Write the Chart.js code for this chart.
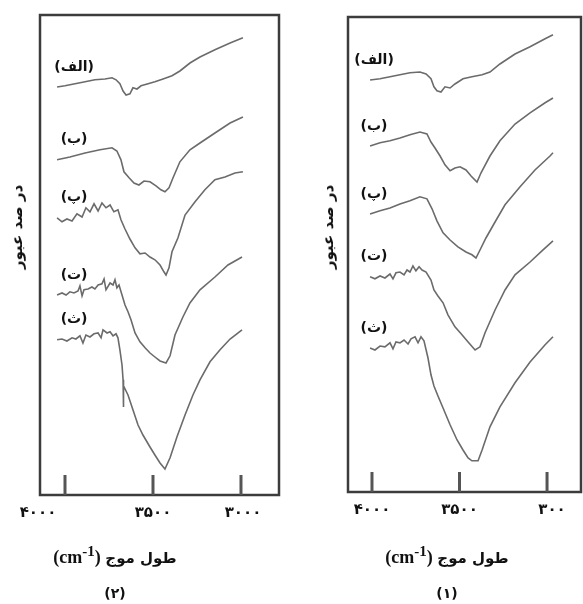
<!DOCTYPE html>
<html>
<head>
<meta charset="utf-8">
<script src="https://cdn.jsdelivr.net/npm/chart.js@4/dist/chart.umd.min.js"></script>
<style>
body{margin:0;background:#fff;width:583px;height:604px;position:relative;overflow:hidden;font-family:"DejaVu Sans",sans-serif;}
canvas{position:absolute;top:0;}
.t{position:absolute;font-weight:bold;color:#111;white-space:nowrap;transform:translate(-50%,-50%);}
.xt{font-family:"Liberation Serif","DejaVu Sans",serif;font-size:18px;}
.xt span{font-family:"DejaVu Sans",sans-serif;font-size:15px;}
.yt{transform:translate(-50%,-50%) rotate(-90deg);font-size:15px;}
.cap{font-size:14px;}
</style>
</head>
<body>
<canvas id="chart2" width="290" height="604" style="left:0"></canvas>
<canvas id="chart1" width="293" height="604" style="left:290px"></canvas>

<div class="t yt" dir="rtl" style="left:17px;top:227px">در صد عبور</div>
<div class="t yt" dir="rtl" style="left:328px;top:227px">در صد عبور</div>
<div class="t xt" dir="rtl" style="left:115px;top:555px"><span>طول موج</span> (cm<sup>-1</sup>)</div>
<div class="t xt" dir="rtl" style="left:447px;top:555px"><span>طول موج</span> (cm<sup>-1</sup>)</div>
<div class="t cap" dir="rtl" style="left:115px;top:593px">(۲)</div>
<div class="t cap" dir="rtl" style="left:447px;top:593px">(۱)</div>

<script>
// curve names and x ticks
const curveNames = ['(الف)', '(ب)', '(پ)', '(ت)', '(ث)'];
const tickValues = [4000, 3500, 3000];
const tickLabels2 = ['۴۰۰۰', '۳۵۰۰', '۳۰۰۰'];
const tickLabels1 = ['۴۰۰۰', '۳۵۰۰', '۳۰۰'];

// panel (2), left
const p2A_wn = [4045,4000,3943,3886,3830,3773,3733,3710,3688,3670,3653,3631,3614,3591,3568,3528,3489,3443,3392,3347,3290,3233,3148,3062,2989];
const p2A_t  = [102,102.3,102.8,103.3,103.8,104,104.3,103.8,102.8,101,100,100.3,101.8,101.5,102.3,102.8,103.3,104,104.8,106,108,109.5,111.3,113,114.3];

const p2B_wn = [4045,3972,3886,3801,3733,3705,3682,3665,3636,3608,3580,3551,3517,3483,3455,3432,3409,3386,3347,3290,3233,3148,3062,2989];
const p2B_t  = [83.8,84.5,85.5,86.3,86.8,86,83.8,80.8,79.3,78,77.5,78.5,78.3,77.3,76.3,75.8,76.8,79.3,83.3,86.3,88,90.5,93,94.5];

const p2P_wn = [4045,4017,3989,3960,3932,3903,3881,3858,3835,3812,3790,3767,3744,3722,3699,3682,3659,3631,3602,3574,3545,3517,3489,3460,3438,3426,3409,3392,3358,3318,3261,3205,3148,3091,3034,2989];
const p2P_t  = [69.3,68.3,69,68.5,70.3,69.5,71.8,70.8,72.8,71,73,71.8,72.5,70.8,71.3,68.8,66.5,64,61.8,60.3,60.5,59.5,58.8,57.5,55.8,55,56.8,60.8,64.3,70,73.3,76.3,78.8,79.5,80.5,80.8];

const p2T_wn = [4045,4017,3994,3972,3949,3926,3915,3903,3892,3869,3847,3830,3812,3790,3778,3767,3744,3727,3716,3705,3693,3676,3659,3642,3625,3602,3574,3545,3517,3489,3460,3426,3403,3375,3330,3290,3233,3148,3074,2994];
const p2T_t  = [50,50.5,50,50.8,50.5,51,52.3,49.8,51.3,51.5,52,51.5,52.5,52.8,54,51.3,53,52.5,53.8,51.8,52.5,50,47.5,45.8,43.8,40.5,38.3,36.8,35.5,34.5,33.5,33,34.8,40,44.5,48,51.3,54.5,57.5,59.5];

const p2S_wn = [4045,4017,3989,3960,3938,3915,3898,3881,3858,3835,3812,3795,3784,3761,3744,3727,3710,3699,3688,3676,3670,3670,3665,3642,3614,3585,3557,3517,3489,3460,3432,3403,3364,3318,3273,3233,3176,3119,3062,2994];
const p2S_t  = [38.8,39,38.5,39.3,39,39.8,38,40,39.5,40.3,40.5,39.3,41.3,40.5,40.8,39.8,40.3,39.3,36.3,32.5,28.8,22,27.3,25,21.3,17.5,15,12,10,8,6.5,9.3,14.5,20,25,28.8,33.3,36.3,39,41.3];

// panel (1), right
const p1A_wn = [4011,3954,3897,3840,3783,3726,3691,3663,3646,3629,3606,3583,3554,3526,3480,3429,3371,3326,3269,3183,3097,3011,2966];
const p1A_t  = [103,103.3,103.8,104.3,104.8,105,104.5,103.3,101.3,100.3,100,101.3,101,102,103.3,103.8,104.3,105,107,109.5,111.3,113.3,114.3];

const p1B_wn = [4011,3954,3897,3840,3783,3726,3686,3663,3640,3611,3583,3554,3526,3497,3463,3434,3400,3377,3326,3269,3183,3097,3011,2966];
const p1B_t  = [86.5,87.3,87.8,88.5,89.3,90,89.5,87.5,86,84,81.8,80.3,81,81.3,80.5,79,77.5,79.8,84,87.8,92,94.8,97.3,98.5];

const p1P_wn = [4011,3954,3897,3840,3783,3726,3686,3657,3629,3594,3554,3509,3463,3429,3406,3383,3349,3297,3240,3154,3069,2983,2966];
const p1P_t  = [69.5,70.3,71,72,72.8,73.8,73.3,70.8,67.8,64.8,63,61.3,60,59.3,58.5,60.5,63.5,67.5,71.8,76.3,80.5,84,84.8];

const p1T_wn = [4011,3983,3954,3926,3897,3880,3863,3840,3817,3800,3783,3766,3749,3731,3714,3691,3663,3646,3623,3594,3566,3526,3486,3451,3411,3383,3354,3297,3240,3183,3097,3029,2966];
const p1T_t  = [53.8,53.3,54,53.5,54.5,53.3,54.8,55,54.3,55.5,55,56.5,55.3,56.3,55.5,55,53,50.5,49,47.3,44.3,41.3,39.3,37.5,35.5,36.3,39.8,45.5,50.5,54.3,57.5,60.3,62.8];

const p1S_wn = [4011,3983,3954,3926,3897,3880,3863,3840,3817,3794,3777,3754,3737,3720,3703,3680,3663,3646,3623,3594,3554,3514,3480,3451,3429,3394,3371,3326,3269,3183,3097,3011,2966];
const p1S_t  = [36,35.5,36.5,36.3,37.3,35.8,37.5,37.3,38,37,38.3,38.8,37.3,38.8,37.8,33.5,29.3,26.5,24,21,16.8,13,10.5,8.5,7.8,7.8,10.5,16.3,21.3,27.3,32.5,36.8,38.8];

function pts(wn, t){
  return wn.map((w, i) => ({x: w, y: t[i]}));
}

const frame = {
  id: 'frame',
  afterDraw(chart, args, opts){
    const {ctx, chartArea: a} = chart;
    const x = chart.scales.x, y = chart.scales.y;
    ctx.save();
    ctx.strokeStyle = '#3c3c3c';
    ctx.lineWidth = 2.5;
    ctx.strokeRect(a.left, a.top, a.right - a.left, a.bottom - a.top);

    ctx.fillStyle = '#111';
    ctx.textAlign = 'center';
    ctx.textBaseline = 'middle';
    ctx.font = 'bold 15px "DejaVu Sans"';
    tickValues.forEach((v, i) => {
      const px = x.getPixelForValue(v);
      ctx.lineWidth = 3;
      ctx.strokeStyle = '#555';
      ctx.beginPath();
      ctx.moveTo(px, a.bottom);
      ctx.lineTo(px, a.bottom - 20);
      ctx.stroke();
      ctx.fillText(opts.labels[i], px + (opts.shift[i] || 0), a.bottom + 18);
    });

    ctx.font = 'bold 14px "DejaVu Sans"';
    ctx.direction = 'rtl';
    chart.data.datasets.forEach(ds => {
      const p = ds.data[0];
      ctx.fillText(ds.label, x.getPixelForValue(p.x) + opts.dx, y.getPixelForValue(p.y) - 20);
    });
    ctx.restore();
  }
};

function makeChart(id, series, xmin, xmax, ymax, pad, labels, shift, dx){
  return new Chart(document.getElementById(id), {
    type: 'line',
    data: {
      datasets: series.map((s, i) => ({
        label: curveNames[i],
        data: pts(s[0], s[1]),
        borderColor: '#6b6b6b',
        borderWidth: 1.6,
        pointRadius: 0,
        tension: 0,
        fill: false
      }))
    },
    options: {
      responsive: false,
      animation: false,
      devicePixelRatio: 1,
      layout: {padding: pad},
      plugins: {
        legend: {display: false},
        tooltip: {enabled: false},
        frame: {labels: labels, shift: shift, dx: dx}
      },
      scales: {
        x: {type: 'linear', reverse: true, min: xmin, max: xmax, display: false},
        y: {min: 0, max: ymax, display: false}
      }
    },
    plugins: [frame]
  });
}

makeChart('chart2',
  [[p2A_wn, p2A_t], [p2B_wn, p2B_t], [p2P_wn, p2P_t], [p2T_wn, p2T_t], [p2S_wn, p2S_t]],
  2784, 4142, 120, {left: 40, top: 15, right: 11, bottom: 109},
  tickLabels2, [-27, 0, 2], 17);

makeChart('chart1',
  [[p1A_wn, p1A_t], [p1B_wn, p1B_t], [p1P_wn, p1P_t], [p1T_wn, p1T_t], [p1S_wn, p1S_t]],
  2806, 4137, 118.75, {left: 58, top: 17, right: 2, bottom: 112},
  tickLabels1, [0, 0, 5], 4);
</script>
</body>
</html>
